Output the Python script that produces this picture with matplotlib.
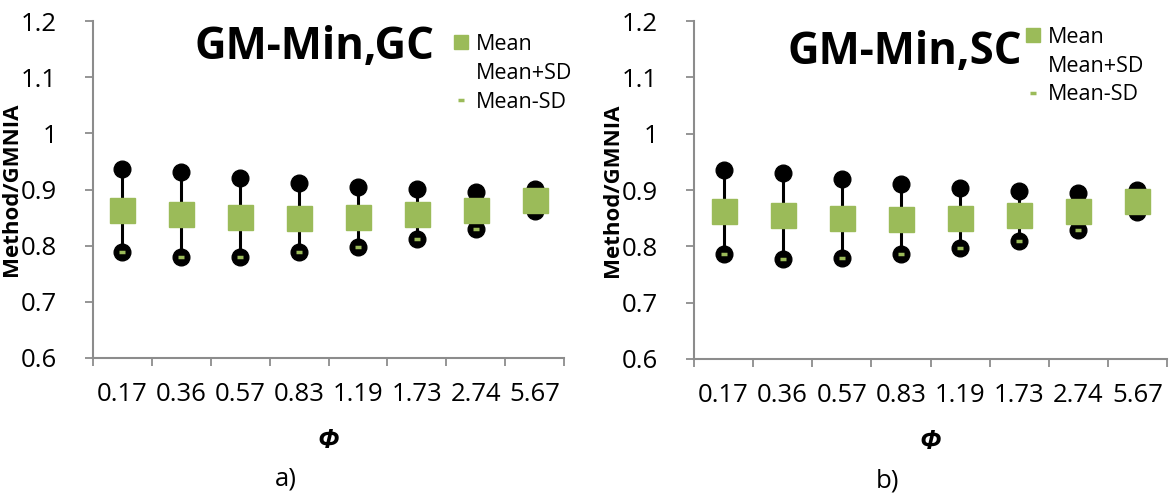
import matplotlib.pyplot as plt
from matplotlib.lines import Line2D
import numpy as np

plt.rcParams['font.family'] = ['Open Sans', 'DejaVu Sans']

# Valores de Phi (categorias del eje x)
phi_labels = ['0.17', '0.36', '0.57', '0.83', '1.19', '1.73', '2.74', '5.67']

# GM-Min, GC
mean_gc = [0.863, 0.856, 0.851, 0.849, 0.851, 0.856, 0.863, 0.882]
plus_gc = [0.936, 0.932, 0.921, 0.912, 0.904, 0.900, 0.896, 0.901]
minus_gc = [0.788, 0.779, 0.780, 0.788, 0.798, 0.811, 0.830, 0.862]

# GM-Min, SC
mean_sc = [0.862, 0.855, 0.850, 0.848, 0.850, 0.855, 0.862, 0.881]
plus_sc = [0.935, 0.931, 0.920, 0.911, 0.903, 0.899, 0.895, 0.900]
minus_sc = [0.787, 0.778, 0.779, 0.787, 0.797, 0.810, 0.829, 0.861]

verde = '#9BBB59'
gris = '#8C8C8C'


def dibujar(ax, mean, plus, minus, titulo, letra):
    x = np.arange(len(phi_labels))
    # linea vertical entre Mean-SD y Mean+SD
    ax.vlines(x, minus, plus, color='black', lw=2.2, zorder=2)
    ax.plot(x, plus, 'o', color='black', ms=12, zorder=3)
    ax.plot(x, minus, 'o', color='black', ms=12, zorder=3)
    ax.plot(x, minus, '_', color=verde, ms=4.5, mew=2.5, zorder=4)
    ax.plot(x, mean, 's', color=verde, ms=18, zorder=5)

    ax.set_xlim(-0.5, len(phi_labels) - 0.5)
    ax.set_ylim(0.6, 1.2)
    ax.set_yticks(np.arange(0.6, 1.21, 0.1))
    ax.set_yticklabels(['0.6', '0.7', '0.8', '0.9', '1', '1.1', '1.2'])
    # marcas en los limites de categoria, etiquetas en el centro
    ax.set_xticks(np.arange(-0.5, len(phi_labels), 1.0))
    ax.set_xticklabels([])
    ax.set_xticks(x, minor=True)
    ax.set_xticklabels(phi_labels, minor=True)
    ax.tick_params(axis='x', which='major', direction='out', length=6,
                   width=1.3, color=gris)
    ax.tick_params(axis='x', which='minor', length=0, pad=17, labelsize=18.5)
    ax.tick_params(axis='y', direction='out', length=6, width=1.3,
                   color=gris, pad=20, labelsize=18.5)

    for s in ['top', 'right']:
        ax.spines[s].set_visible(False)
    for s in ['left', 'bottom']:
        ax.spines[s].set_color(gris)
        ax.spines[s].set_linewidth(1.5)

    ax.set_ylabel('Method/GMNIA', fontsize=16, fontweight='bold')
    ax.yaxis.set_label_coords(-0.151, 0.5)
    ax.set_xlabel('Φ', fontsize=19, fontweight='bold', style='italic')
    ax.xaxis.set_label_coords(0.5, -0.205)

    ax.text(titulo[1], titulo[2], titulo[0], transform=ax.transAxes,
            fontsize=31.5, fontweight='bold', ha='center', va='center')
    ax.text(0.41, -0.36, letra, transform=ax.transAxes, fontsize=18.5,
            ha='center', va='center')


fig = plt.figure(figsize=(11.69, 4.93), dpi=100)
ax1 = fig.add_axes([93 / 1169, 1 - 358 / 493, 471 / 1169, 337 / 493])
ax2 = fig.add_axes([694 / 1169, 1 - 359 / 493, 473 / 1169, 338 / 493])

dibujar(ax1, mean_gc, plus_gc, minus_gc, ('GM-Min,GC', 0.471, 0.92), 'a)')
dibujar(ax2, mean_sc, plus_sc, minus_sc, ('GM-Min,SC', 0.446, 0.908), 'b)')

handles = [
    Line2D([], [], marker='s', color=verde, ls='none', ms=10),
    Line2D([], [], ls='none'),
    Line2D([], [], marker='_', color=verde, ls='none', ms=4.5, mew=2.5),
]
etiquetas = ['Mean', 'Mean+SD', 'Mean-SD']
for ax, (lx, ly) in [(ax1, (452, 34)), (ax2, (1024, 27))]:
    ax.legend(handles, etiquetas, loc='upper left',
              bbox_to_anchor=(lx / 1169, 1 - ly / 493),
              bbox_transform=fig.transFigure, frameon=False, fontsize=15.5,
              handlelength=0.8, handletextpad=0.3, labelspacing=0.36,
              borderpad=0, borderaxespad=0)

fig.savefig('out.png', dpi=100)
